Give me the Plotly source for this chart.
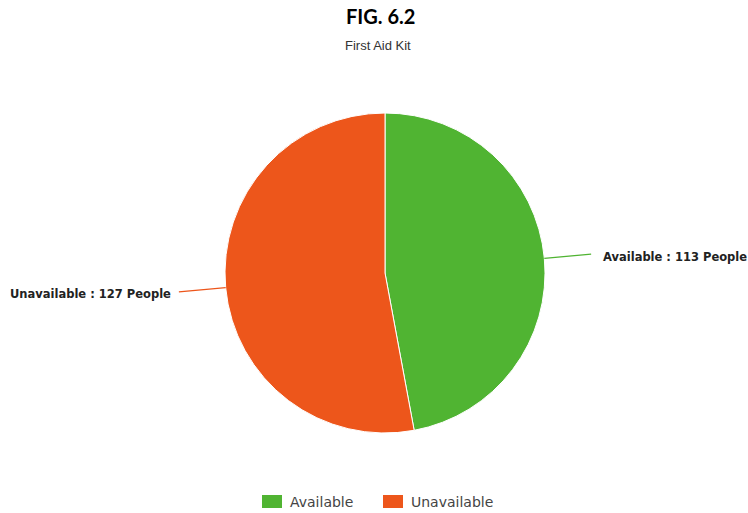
import math
import plotly.graph_objects as go

# Survey counts for first aid kit availability
labels = ["Available", "Unavailable"]
counts = [113, 127]
colors = ["#50B432", "#ED561B"]

W, H = 748, 513
ML, MR, MT, MB = 22, 0, 113, 80
plot_w = W - ML - MR
plot_h = H - MT - MB
radius = min(plot_w, plot_h) / 2
cx = ML + plot_w / 2
cy = MT + plot_h / 2


def paper_x(px):
    """Pixel column -> paper x coordinate of the plot area."""
    return (px - ML) / plot_w


def paper_y(py):
    """Pixel row (from top) -> paper y coordinate of the plot area."""
    return (H - MB - py) / plot_h


fig = go.Figure(
    go.Pie(
        labels=labels,
        values=counts,
        sort=False,
        direction="clockwise",
        rotation=0,
        marker=dict(colors=colors, line=dict(color="white", width=1)),
        textinfo="none",
        hoverinfo="label+value",
        showlegend=False,
        domain=dict(x=[0, 1], y=[0, 1]),
    )
)

# Outside labels with radial leader lines, placed at each slice's mid-angle
total = sum(counts)
start = 0.0
shapes, annotations = [], []
for lab, val, col in zip(labels, counts, colors):
    span = val / total * 360
    mid = math.radians(start + span / 2)
    start += span
    sx, sy = math.sin(mid), -math.cos(mid)
    ex, ey = cx + (radius + 47) * sx, cy + (radius + 47) * sy
    shapes.append(dict(type="line", xref="paper", yref="paper",
                       x0=paper_x(cx + radius * sx), y0=paper_y(cy + radius * sy),
                       x1=paper_x(ex), y1=paper_y(ey),
                       line=dict(color=col, width=1.2)))
    right = sx > 0
    offset = 10 if right else -6
    annotations.append(dict(
        xref="paper", yref="paper", x=paper_x(ex + offset), y=paper_y(ey + 2.5),
        xanchor="left" if right else "right", yanchor="middle",
        text=f"<b>{lab} : {val} People</b>", showarrow=False,
        font=dict(family="DejaVu Sans", size=11.5, color="#222222"),
    ))

# Headings
annotations.append(dict(xref="paper", yref="paper", x=paper_x(380), y=paper_y(16),
                        xanchor="center", yanchor="middle", showarrow=False,
                        text="<b>FIG. 6.2</b>",
                        font=dict(family="Lato, Open Sans", size=20, color="#000000")))
annotations.append(dict(xref="paper", yref="paper", x=paper_x(378), y=paper_y(46),
                        xanchor="center", yanchor="middle", showarrow=False,
                        text="First Aid Kit",
                        font=dict(family="Liberation Sans, Arial", size=13, color="#333333")))

# Legend: colour swatch followed by the category name
legend_x = [262, 383]
for lab, col, lx in zip(labels, colors, legend_x):
    shapes.append(dict(type="rect", xref="paper", yref="paper",
                       x0=paper_x(lx), x1=paper_x(lx + 20),
                       y0=paper_y(508), y1=paper_y(495),
                       fillcolor=col, line=dict(width=0)))
    annotations.append(dict(xref="paper", yref="paper", x=paper_x(lx + 26), y=paper_y(502),
                            xanchor="left", yanchor="middle", showarrow=False,
                            text=lab,
                            font=dict(family="DejaVu Sans", size=14, color="#444444")))

fig.update_layout(
    width=W, height=H,
    margin=dict(l=ML, r=MR, t=MT, b=MB),
    paper_bgcolor="white", plot_bgcolor="white",
    shapes=shapes, annotations=annotations,
    showlegend=False,
)

fig.write_html("out.html")
